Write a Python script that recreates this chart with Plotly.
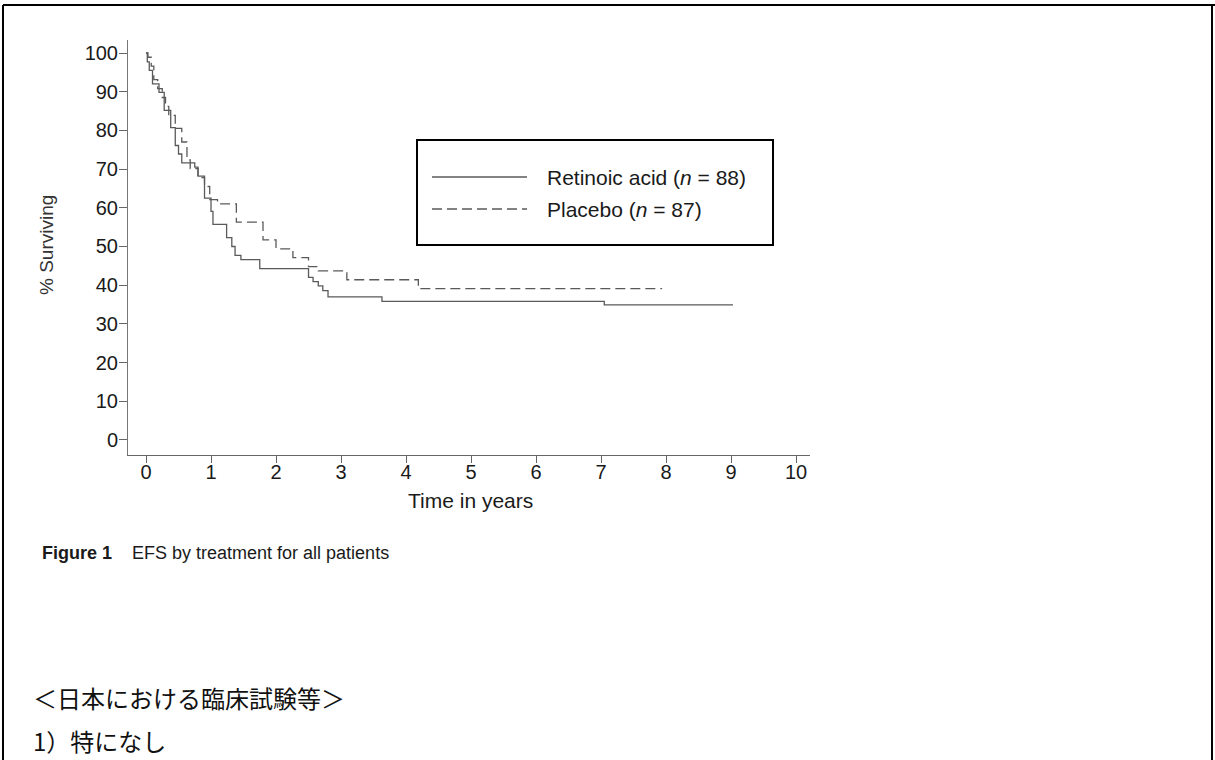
import plotly.graph_objects as go

# ---- data ----
retinoic_t = [0, 0.02, 0.05, 0.10, 0.20, 0.28, 0.38, 0.45, 0.50, 0.55, 0.75, 0.80, 0.90, 1.00, 1.03,
              1.24, 1.32, 1.37, 1.46, 1.75, 2.50, 2.57, 2.65, 2.72, 2.80, 3.63, 7.05, 9.03]
retinoic_s = [100, 97.7, 95.5, 92.0, 89.8, 85.2, 80.7, 76.1, 73.9, 71.6, 70.5, 68.2, 62.5, 59.1, 55.7,
              52.3, 50.0, 47.7, 46.6, 44.3, 42.0, 40.9, 39.8, 38.6, 37.0, 35.8, 34.9, 34.9]

placebo_t = [0, 0.03, 0.08, 0.12, 0.18, 0.25, 0.30, 0.35, 0.45, 0.55, 0.63, 0.68, 0.80, 0.90, 0.98,
             1.10, 1.39, 1.80, 2.00, 2.26, 2.50, 2.65, 3.09, 4.19, 7.94]
placebo_s = [100, 98.9, 96.6, 93.1, 90.8, 88.5, 86.2, 83.9, 80.5, 77.0, 72.4, 70.1, 67.8, 65.5, 62.1,
             61.0, 56.3, 51.7, 49.4, 47.1, 44.8, 43.7, 41.4, 39.1, 39.1]

series_names = ["Retinoic acid (<i>n</i> = 88)", "Placebo (<i>n</i> = 87)"]
x_ticks = list(range(0, 11))
y_ticks = list(range(0, 101, 10))

W, H = 1215, 760
L, R, T, B = 128, 810, 40, 455  # plot area pixel edges


def px(x):
    return (x - L) / (R - L)


def py(y):
    return (B - y) / (B - T)


FONT = "Liberation Sans, Arial, sans-serif"
CURVE = "#5a5a5a"
TXT = "#1a1a1a"

fig = go.Figure()
fig.add_trace(go.Scatter(x=retinoic_t, y=retinoic_s, mode="lines", line_shape="hv",
                         line=dict(color=CURVE, width=1.3), name=series_names[0], showlegend=False))
fig.add_trace(go.Scatter(x=placebo_t, y=placebo_s, mode="lines", line_shape="hv",
                         line=dict(color=CURVE, width=1.3, dash="10px,5px"), name=series_names[1],
                         showlegend=False))

fig.update_layout(
    width=W, height=H,
    margin=dict(l=L, r=W - R, t=T, b=H - B, pad=0),
    paper_bgcolor="white", plot_bgcolor="white",
    font=dict(family=FONT, color=TXT),
    xaxis=dict(range=[-0.277, 10.215], tickvals=x_ticks, ticks="outside", ticklen=7,
               tickcolor="#666666", showline=True, linecolor="#666666", linewidth=1,
               showgrid=False, zeroline=False, tickfont=dict(size=20, color=TXT),
               ticklabelstandoff=-8),
    yaxis=dict(range=[-3.88, 103.36], tickvals=y_ticks, ticks="outside", ticklen=8,
               tickcolor="#666666", showline=True, linecolor="#777777", linewidth=1,
               showgrid=False, zeroline=False, tickfont=dict(size=20, color=TXT),
               ticklabelstandoff=-3),
)

shapes = []
# page frame
shapes.append(dict(type="line", xref="paper", yref="paper", x0=px(3), x1=px(1215), y0=py(5), y1=py(5),
                   line=dict(color="black", width=2)))
shapes.append(dict(type="line", xref="paper", yref="paper", x0=px(3), x1=px(3), y0=py(5), y1=py(760),
                   line=dict(color="black", width=2)))
shapes.append(dict(type="line", xref="paper", yref="paper", x0=px(1212), x1=px(1212), y0=py(5), y1=py(760),
                   line=dict(color="black", width=2)))
# legend box
shapes.append(dict(type="rect", xref="paper", yref="paper", x0=px(417), x1=px(773), y0=py(245), y1=py(140),
                   line=dict(color="black", width=2), fillcolor="rgba(0,0,0,0)"))
# legend samples
shapes.append(dict(type="line", xref="paper", yref="paper", x0=px(432), x1=px(527), y0=py(177), y1=py(177),
                   line=dict(color=CURVE, width=1.3)))
shapes.append(dict(type="line", xref="paper", yref="paper", x0=px(432), x1=px(527), y0=py(209), y1=py(209),
                   line=dict(color=CURVE, width=1.3, dash="10px,5px")))
fig.update_layout(shapes=shapes)

ann = []
ann.append(dict(text=series_names[0], x=px(545), y=py(177), xanchor="left", yanchor="middle",
                font=dict(size=21, color=TXT)))
ann.append(dict(text=series_names[1], x=px(545), y=py(209), xanchor="left", yanchor="middle",
                font=dict(size=21, color=TXT)))
ann.append(dict(text="% Surviving", x=px(46), y=py(245), textangle=-90, xanchor="center", yanchor="middle",
                font=dict(size=19, color="#333333")))
ann.append(dict(text="Time in years", x=px(470), y=py(500), xanchor="center", yanchor="middle",
                font=dict(size=21, color=TXT)))
ann.append(dict(text="<b>Figure 1</b>&nbsp;&nbsp;&nbsp;&nbsp;EFS by treatment for all patients",
                x=px(40), y=py(553), xanchor="left", yanchor="middle",
                font=dict(size=18, color=TXT)))
ann.append(dict(text="＜日本における臨床試験等＞", x=px(31), y=py(697), xanchor="left", yanchor="middle",
                font=dict(size=24, color="#111111", family="Noto Sans CJK JP")))
ann.append(dict(text="1）特になし", x=px(31), y=py(740), xanchor="left", yanchor="middle",
                font=dict(size=24, color="#111111", family="Noto Sans CJK JP")))
for a in ann:
    a.update(xref="paper", yref="paper", showarrow=False)
fig.update_layout(annotations=ann)

fig.write_html("out.html", config={"displayModeBar": False},
               post_script="document.body.style.margin='0';document.documentElement.style.margin='0';")
